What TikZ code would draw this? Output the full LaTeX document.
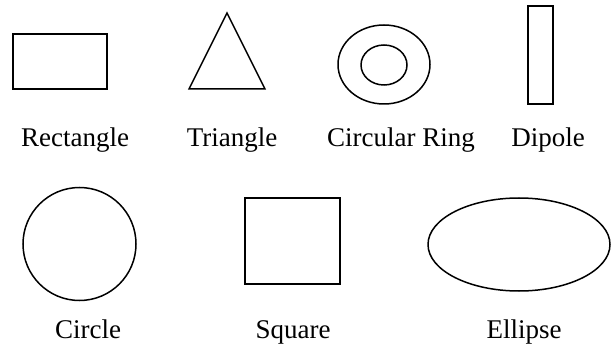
\documentclass[tikz,border=0pt]{standalone}
\usepackage{fontspec}
\setmainfont{Liberation Serif}
\begin{document}
\begin{tikzpicture}[x=1pt,y=-1pt,
  shape line/.style={draw=black, line width=1.5pt},
  lbl/.style={anchor=base, inner sep=0pt, font=\fontsize{27}{30}\selectfont}]
\useasboundingbox (0,0) rectangle (612,347);
% top row
\draw[shape line] (13,34) rectangle (107,89);
\draw[shape line] (227,13) -- (265,89) -- (189,89) -- cycle;
\draw[shape line] (384,64.5) ellipse [x radius=46, y radius=39.5];
\draw[shape line] (384,65) ellipse [x radius=23, y radius=20];
\draw[shape line] (528,6) rectangle (553,104);
\node[lbl] (l1) at (75,147) {Rectangle};
\node[lbl] (l2) at (232,147) {Triangle};
\node[lbl] (l3) at (401,147) {Circular Ring};
\node[lbl] (l4) at (548,147) {Dipole};
% bottom row
\draw[shape line] (79.5,244) circle [radius=56.5];
\draw[shape line] (245,198) rectangle (340,284);
\draw[shape line] (519,244.5) ellipse [x radius=91, y radius=46.5];
\node[lbl] (l5) at (88,338) {Circle};
\node[lbl] (l6) at (293,338) {Square};
\node[lbl] (l7) at (524,338) {Ellipse};
\end{tikzpicture}
\end{document}
